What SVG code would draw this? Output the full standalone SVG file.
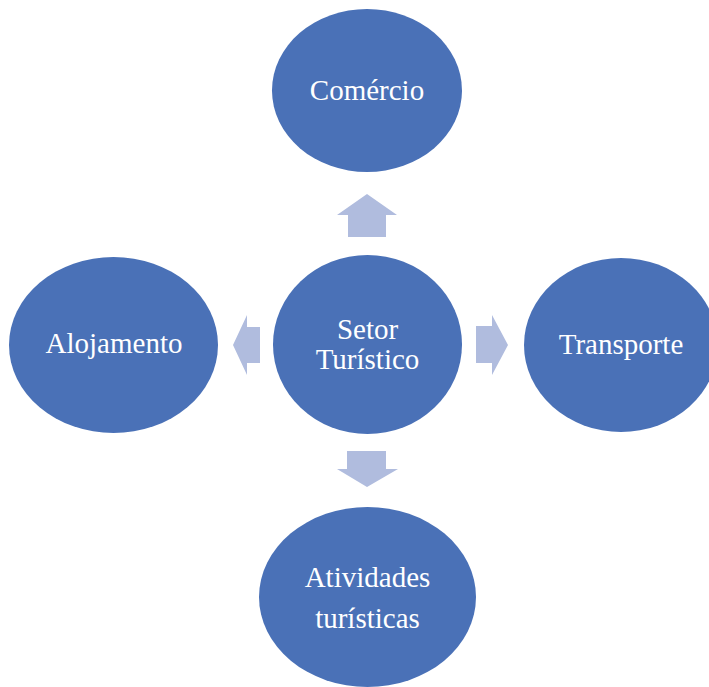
<svg xmlns="http://www.w3.org/2000/svg" width="709" height="687" viewBox="0 0 709 687">
<style>
.node{fill:#4a71b7}
.arr{fill:#b0bcde}
text{font-family:"Liberation Serif","Times New Roman",serif;font-size:29px;fill:#ffffff;text-anchor:middle}
</style>
<rect width="709" height="687" fill="#ffffff"/>
<g id="connectors">
<polygon class="arr" points="367,194 397,215 386,215 386,237 348,237 348,215 337,215"/>
<polygon class="arr" points="233,345 247,315 247,327 260,327 260,363 247,363 247,375"/>
<polygon class="arr" points="508,345 492,315 492,326 476,326 476,363 492,363 492,375"/>
<polygon class="arr" points="367,487 398,469 386,469 386,451 347,451 347,469 337,469"/>
</g>
<g id="center">
<ellipse class="node" cx="367.5" cy="344.5" rx="94.5" ry="89.5"/>
<text x="367.5" y="339">Setor</text>
<text x="367.5" y="369">Turístico</text>
</g>
<g id="comercio">
<ellipse class="node" cx="367" cy="90.5" rx="95" ry="81.5"/>
<text x="367" y="100">Comércio</text>
</g>
<g id="alojamento">
<ellipse class="node" cx="113.5" cy="345" rx="104.5" ry="88"/>
<text x="114" y="353">Alojamento</text>
</g>
<g id="transporte">
<ellipse class="node" cx="621" cy="345" rx="97" ry="87"/>
<text x="621" y="354">Transporte</text>
</g>
<g id="atividades">
<ellipse class="node" cx="367.5" cy="597" rx="108.5" ry="90"/>
<text x="367.5" y="587">Atividades</text>
<text x="367.5" y="628">turísticas</text>
</g>
</svg>
